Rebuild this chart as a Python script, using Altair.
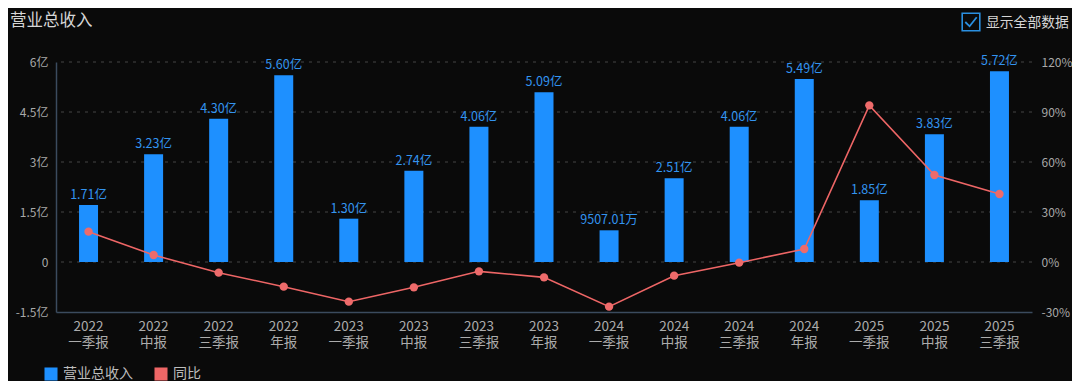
import altair as alt
import pandas as pd

years = ["2022", "2022", "2022", "2022", "2023", "2023", "2023", "2023",
         "2024", "2024", "2024", "2024", "2025", "2025", "2025"]
periods = ["一季报", "中报", "三季报", "年报", "一季报", "中报", "三季报", "年报",
           "一季报", "中报", "三季报", "年报", "一季报", "中报", "三季报"]
revenue = [1.71, 3.23, 4.30, 5.60, 1.30, 2.74, 4.06, 5.09,
           0.950701, 2.51, 4.06, 5.49, 1.85, 3.83, 5.72]
revenue_labels = ["1.71亿", "3.23亿", "4.30亿", "5.60亿", "1.30亿", "2.74亿", "4.06亿", "5.09亿",
                  "9507.01万", "2.51亿", "4.06亿", "5.49亿", "1.85亿", "3.83亿", "5.72亿"]
yoy = [18.2, 4.2, -6.4, -14.8, -23.8, -15.2, -5.6, -9.2,
       -26.8, -8.2, -0.4, 7.8, 94.0, 52.2, 40.8]

left_ticks = [-1.5, 0, 1.5, 3, 4.5, 6]
right_ticks = [-30, 0, 30, 60, 90, 120]
series_names = ["营业总收入", "同比"]
series_colors = ["#1e90ff", "#ee6666"]
chart_title = ["营业总收入"]
toggle_label = ["显示全部数据"]

FONT = "Noto Sans CJK SC"
categories = [f"{y} {p}" for y, p in zip(years, periods)]
df = pd.DataFrame({"cat": categories, "rev": revenue, "lab": revenue_labels, "yoy": yoy})
grid_df = pd.DataFrame({"g": left_ticks[1:]})

color_scale = alt.Scale(domain=series_names, range=series_colors)
rev_scale = alt.Scale(domain=[-1.5, 6], nice=False, zero=False)
x_enc = alt.X("cat:N", sort=categories, title=None,
              scale=alt.Scale(paddingInner=0, paddingOuter=0),
              axis=alt.Axis(labelExpr="split(datum.label, ' ')", labelAngle=0,
                            labelColor="#acacac", labelFontSize=13.5, labelLineHeight=16,
                            labelPadding=7, ticks=False, domainColor="#3b4b5e",
                            domainWidth=1.5, grid=False, labelBaseline="top"))
x_plain = alt.X("cat:N", sort=categories)

base = alt.Chart(df)

grid = alt.Chart(grid_df).mark_rule(color="#444444", strokeDash=[3, 5], strokeWidth=1).encode(
    y=alt.Y("g:Q", scale=rev_scale),
)

bars = base.mark_bar(width=19, color="#1e90ff").encode(
    x=x_enc,
    y=alt.Y("rev:Q", title=None, scale=rev_scale,
            axis=alt.Axis(values=left_ticks, orient="left",
                          labelExpr="datum.value == 0 ? '0' : datum.value + '亿'",
                          labelColor="#a8a8a8", labelFontSize=12, labelPadding=8,
                          ticks=False, domainColor="#3b4b5e", domainWidth=1.5,
                          grid=False)),
    color=alt.Color("s:N", scale=color_scale,
                    legend=alt.Legend(title=None, orient="none", legendX=-12, legendY=305,
                                      direction="horizontal", symbolType="square",
                                      symbolSize=170, symbolStrokeWidth=0,
                                      labelFontSize=14, labelColor="#bdbdbd",
                                      labelOffset=5, columnPadding=21, labelFont=FONT)),
).transform_calculate(s="'营业总收入'")

bar_text = base.mark_text(baseline="bottom", dy=-3, fontSize=12.5, color="#3394f0").encode(
    x=x_plain,
    y=alt.Y("rev:Q"),
    text="lab:N",
)

line = base.mark_line(color="#e06262", strokeWidth=1.6).encode(
    x=x_plain,
    y=alt.Y("yoy:Q", title=None,
            scale=alt.Scale(domain=[-30, 120], nice=False, zero=False),
            axis=alt.Axis(values=right_ticks, orient="right",
                          labelExpr="datum.value + '%'", labelColor="#a8a8a8",
                          labelFontSize=12, labelPadding=9, ticks=False,
                          domain=False, grid=False)),
    color=alt.Color("s:N", scale=color_scale),
).transform_calculate(s="'同比'")

points = base.mark_point(filled=True, size=70, color="#ee6b6b", opacity=1).encode(
    x=x_plain,
    y=alt.Y("yoy:Q"),
)

left = alt.layer(grid, bars, bar_text)
right = alt.layer(line, points)

title_layer = alt.Chart(pd.DataFrame({"t": chart_title})).mark_text(
    align="left", baseline="middle", fontSize=16.5, color="#d6d6d6"
).encode(x=alt.value(-46), y=alt.value(-41), text="t:N")

box = alt.Chart(pd.DataFrame({"t": toggle_label})).mark_point(
    shape="square", filled=False, size=310, strokeWidth=1.6, color="#2a8fe0", opacity=1
).encode(x=alt.value(915), y=alt.value(-40))

check = alt.Chart(pd.DataFrame({"t": toggle_label})).mark_point(
    shape="M-0.6,0 L-0.15,0.45 L0.6,-0.5", filled=False, size=360, strokeWidth=1.8,
    color="#2a8fe0", opacity=1
).encode(x=alt.value(915), y=alt.value(-40))

toggle_text = alt.Chart(pd.DataFrame({"t": toggle_label})).mark_text(
    align="left", baseline="middle", fontSize=13.8, color="#d6d6d6"
).encode(x=alt.value(930), y=alt.value(-39), text="t:N")

chart = alt.layer(left, right, title_layer, box, check, toggle_text).resolve_scale(
    y="independent"
).properties(
    width=976, height=250,
    autosize=alt.AutoSizeParams(type="none"),
    padding={"left": 48, "top": 54, "right": 40, "bottom": 69},
    background="#0a0a0a",
).configure(font=FONT).configure_view(strokeWidth=0, stroke="transparent").configure_axis(
    grid=False
)

chart.save("out.html", embed_options={"renderer": "svg", "actions": False})
